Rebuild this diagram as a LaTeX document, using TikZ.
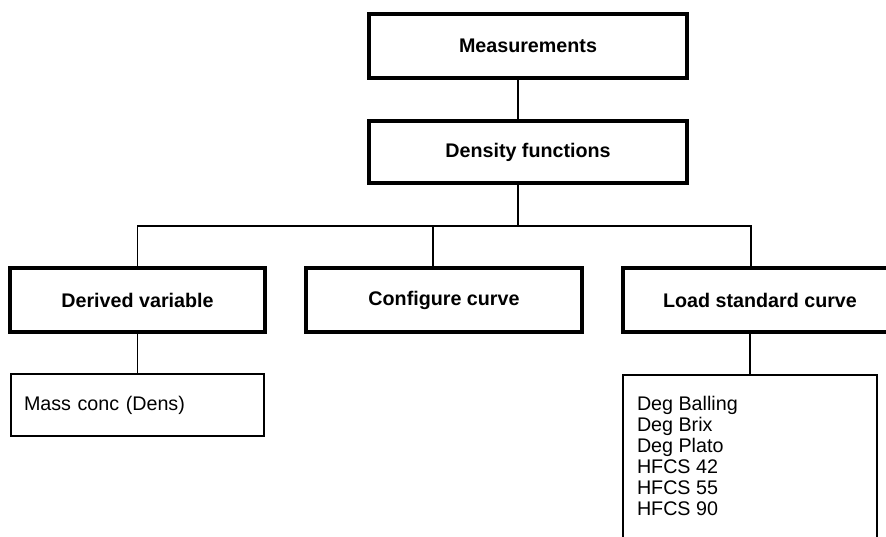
\documentclass[tikz,border=0pt]{standalone}
\usepackage{fontspec}
\setmainfont{Liberation Sans}
\usetikzlibrary{positioning}

\begin{document}
\begin{tikzpicture}[x=1pt, y=-1pt, line width=1.4pt,
        every node/.style={font=\fontsize{19.7}{21}\selectfont},
        headbox/.style={draw, line width=3.2pt, font=\fontsize{19.7}{21}\selectfont\bfseries, minimum height=64pt, inner sep=0pt},
        listbox/.style={draw, line width=1.5pt, align=left, inner xsep=13pt}]
        \useasboundingbox (0,0) rectangle (886,537);
        \clip (0,0) rectangle (886,537);
        % top
        \node[headbox, minimum width=318pt] (meas) at (528,46) {Measurements};
        \node[headbox, minimum width=318pt, minimum height=62pt] (dens) at (528,152) {Density functions};
        % branches
        \node[headbox, minimum width=255pt] (derv) at (137.5,300) {Derived variable};
        \node[headbox, minimum width=276pt] (conf) at (444,300) {Configure curve};
        \node[headbox, minimum width=274pt] (load) at (760,300) {Load standard curve};
        % lists
        \node[listbox, text width=227pt, minimum height=62pt] (mass) at (137.5,405) {Mass conc (Dens)};
        \node[listbox, anchor=north, inner xsep=14pt, inner ysep=21pt] (list) at (750,374) {\parbox[t][170pt][t]{226pt}{Deg Balling\\Deg Brix\\Deg Plato\\HFCS 42\\HFCS 55\\HFCS 90}};
        % connectors
        \coordinate (fork) at (518,226);
        \coordinate (ctap) at (433,226);
        \coordinate (ltap) at (751,226);
        \draw (fork |- meas.south) -- (fork |- dens.north);
        \draw (fork |- dens.south) -- (fork);
        \draw (derv.north) |- (fork) -- (ltap) -- (ltap |- load.north);
        \draw (ctap) -- (ctap |- conf.north);
        \draw (derv.south) -- (mass.north);
        \draw (list.north |- load.south) -- (list.north);
\end{tikzpicture}
\end{document}
